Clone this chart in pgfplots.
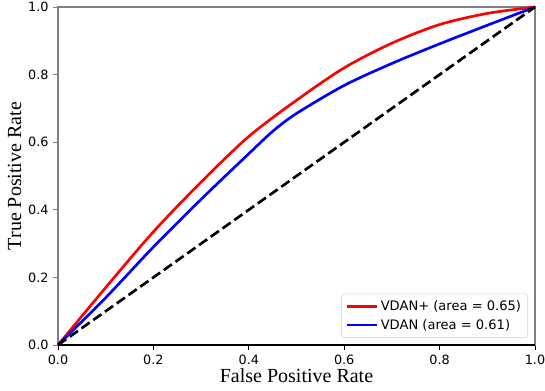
\documentclass[border=0pt]{standalone}
\usepackage{fontspec}
\setmainfont{Liberation Serif}
\newfontfamily\dejavu{DejaVu Sans}
\usepackage{pgfplots}
\pgfplotsset{compat=1.18}
\begin{document}
\begin{tikzpicture}
\useasboundingbox (-43.5pt,-33.75pt) rectangle (365.25pt,258.75pt);
\begin{axis}[
  at={(0pt,0pt)}, anchor=south west,
  scale only axis,
  width=357.75pt, height=253.5pt,
  xmin=0, xmax=1, ymin=0, ymax=1,
  xtick={0,0.2,0.4,0.6,0.8,1.0},
  ytick={0,0.2,0.4,0.6,0.8,1.0},
  /pgf/number format/assume math mode=true,
  /pgf/number format/fixed,
  /pgf/number format/fixed zerofill,
  /pgf/number format/precision=1,
  ticklabel style={font=\dejavu\fontsize{9.6}{11}\selectfont},
  tick align=outside,
  major tick length=3.6pt,
  xtick style={black, line width=0.6pt},
  ytick style={gray, line width=0.6pt},
  tick pos=left,
  axis line style={gray, line width=1pt},
  xlabel={False Positive Rate},
  ylabel={True Positive Rate},
  label style={font=\fontsize{15}{17}\selectfont},
  xlabel style={at={(axis description cs:0.5,0)}, anchor=north, yshift=-14pt},
  ylabel style={at={(axis description cs:0,0.5)}, anchor=south, yshift=24pt},
  legend style={at={(axis cs:1,0)}, anchor=south east, xshift=-5.25pt, yshift=5.25pt,
    draw=gray!35, rounded corners=2pt, font=\dejavu\fontsize{9.8}{11.5}\selectfont,
    row sep=1pt, inner sep=3pt},
  legend cell align=left,
  legend image code/.code={\draw[#1] (0pt,0pt) -- (22.5pt,0pt);},
  clip=false,
]
\addplot[red, line width=2pt, smooth] coordinates {
(0,0) (0.1,0.17) (0.2,0.335) (0.3,0.482) (0.4,0.617) (0.5,0.724)
(0.6,0.82) (0.7,0.893) (0.8,0.948) (0.9,0.981) (1,1)};
\addlegendentry{VDAN+ (area = 0.65)}
\addplot[blue, line width=2pt, smooth] coordinates {
(0,0) (0.1,0.14) (0.2,0.29) (0.3,0.431) (0.4,0.566) (0.45,0.632)
(0.5,0.685) (0.6,0.768) (0.7,0.833) (0.8,0.891) (0.9,0.946) (1,1)};
\addlegendentry{VDAN (area = 0.61)}
\addplot[black, line width=2pt, dash pattern=on 7.5pt off 3.3pt, forget plot] coordinates {(0,0) (1,1)};
\draw[black, line width=1pt] (rel axis cs:0,0) -- (rel axis cs:1,0);
\end{axis}
\end{tikzpicture}
\end{document}
